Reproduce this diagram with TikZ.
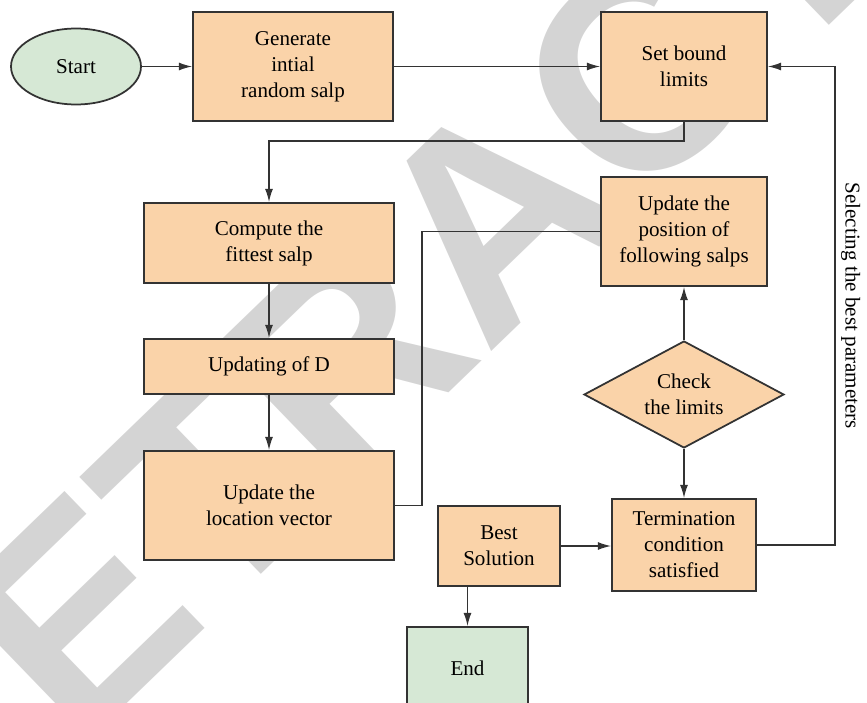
\documentclass[tikz,border=0pt]{standalone}
\usepackage{fontspec}
\setmainfont{Liberation Serif}
\newfontfamily\wmfont{Liberation Sans}
\usetikzlibrary{arrows.meta,shapes.geometric}
\definecolor{boxfill}{HTML}{FAD3A9}
\definecolor{endfill}{HTML}{D6E8D5}
\definecolor{edge}{HTML}{333333}
\definecolor{wmgray}{HTML}{D4D4D4}

\begin{document}
\begin{tikzpicture}[
  x=0.02cm, y=-0.02cm,
  font=\fontsize{12}{14.8}\selectfont,
  procbox/.style={
    rectangle, draw=edge, line width=1pt, fill=boxfill,
    align=center, inner sep=2pt
  },
  endbox/.style={procbox, fill=endfill},
  arr/.style={draw=edge, line width=0.8pt, -{Latex[length=7.5pt,width=4.5pt]}},
  wire/.style={draw=edge, line width=0.8pt}
]
  \useasboundingbox (0,0) rectangle (867,703);
  \begin{scope}
    \clip (0,0) rectangle (867,703);
    \node[wmgray, rotate=44, font=\wmfont\bfseries\fontsize{162}{162}\selectfont] (wm) at (492,215) {RETRACTED};
  \end{scope}

  \node[endbox, ellipse, minimum width=2.6cm, minimum height=1.52cm] (start) at (76,66.5) {Start};
  \node[procbox, minimum width=4cm, minimum height=2.18cm] (gen) at (293,66.5) {Generate\\intial\\random salp};
  \node[procbox, minimum width=3.32cm, minimum height=2.18cm] (bound) at (684,66.5) {Set bound\\limits};
  \node[procbox, minimum width=5cm, minimum height=1.6cm] (fittest) at (269,243) {Compute the\\fittest salp};
  \node[procbox, minimum width=5cm, minimum height=1.1cm] (updD) at (269,366.5) {Updating of D};
  \node[procbox, minimum width=5cm, minimum height=2.18cm] (loc) at (269,505.5) {Update the\\location vector};
  \node[procbox, minimum width=3.32cm, minimum height=2.18cm] (pos) at (684,231.5) {Update the\\position of\\following salps};
  \node[procbox, diamond, aspect=1.87, inner sep=0pt, minimum width=4cm, minimum height=2.14cm] (check) at (684,394.5) {Check\\the limits};
  \node[procbox, minimum width=2.88cm, minimum height=1.84cm] (termc) at (684,545) {Termination\\condition\\satisfied};
  \node[procbox, minimum width=2.44cm, minimum height=1.6cm] (best) at (499,546) {Best\\Solution};
  \node[endbox, minimum width=2.42cm, minimum height=1.64cm] (finish) at (467.5,668) {End};

  \draw[arr] (start) -- (gen);
  \draw[arr] (gen) -- (bound);
  \draw[arr] (bound.south) -- ++(0,19) -| (fittest.north);
  \draw[arr] (fittest) -- (updD);
  \draw[arr] (updD) -- (loc);
  \coordinate (bendL) at (422,505.5);
  \draw[wire] (loc.east) -- (bendL) |- (pos.west);
  \draw[arr] (check) -- (pos);
  \draw[arr] (check) -- (termc);
  \draw[arr] (best.east) -- (best.east -| termc.west);
  \draw[arr] (best.south -| finish.north) -- (finish.north);
  \coordinate (bendR) at (835,545);
  \draw[arr] (termc.east) -- (bendR) |- node[pos=0.25, above, rotate=-90, inner sep=3pt]{Selecting the best parameters} (bound.east);
\end{tikzpicture}
\end{document}
